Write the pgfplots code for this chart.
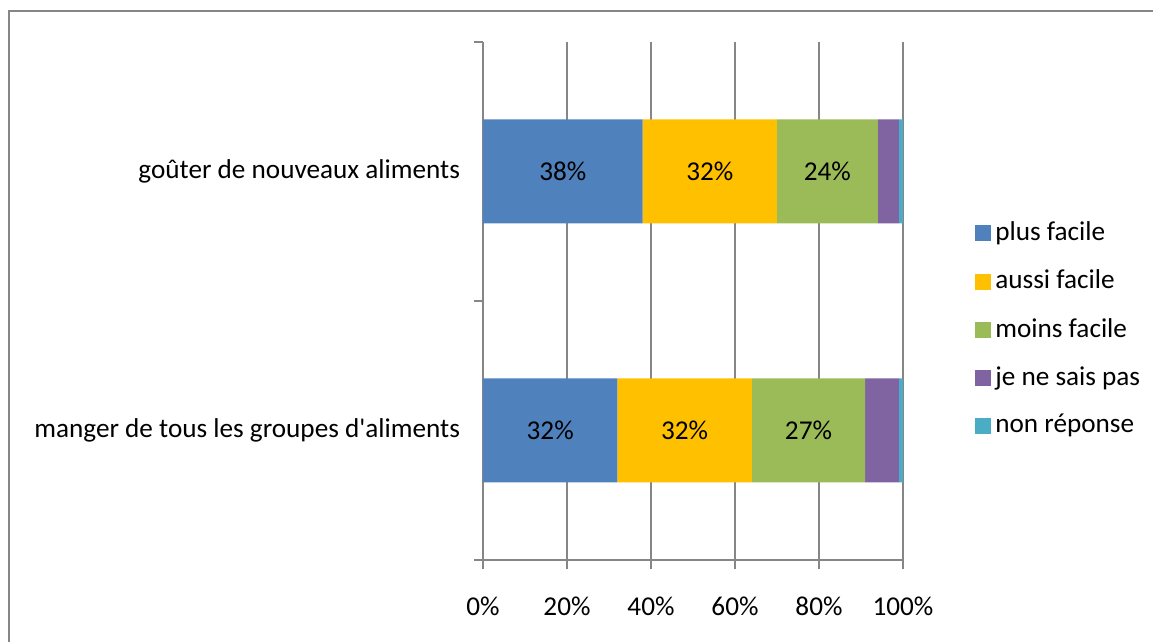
\documentclass[border=0pt]{standalone}
\usepackage{fontspec}
\setmainfont{Carlito}[Ligatures=TeXOff]
\usepackage{pgfplots}
\pgfplotsset{compat=1.18}
\definecolor{cA}{HTML}{4F81BD}
\definecolor{cB}{HTML}{FFC000}
\definecolor{cC}{HTML}{9BBB59}
\definecolor{cD}{HTML}{8064A2}
\definecolor{cE}{HTML}{4BACC6}
\definecolor{axgray}{HTML}{868686}
\begin{document}
\fontsize{13.6pt}{16.3pt}\selectfont
\begin{tikzpicture}
\useasboundingbox (0,0) rectangle (576.5pt,321pt);
\begin{scope}
\clip (0,0) rectangle (576.5pt,321pt);
\draw[axgray, line width=1pt] (4.5pt,-5pt) rectangle (585pt,315.5pt);
\end{scope}
\begin{axis}[
  at={(241.5pt,41pt)}, anchor=south west,
  scale only axis, width=210pt, height=259pt,
  xbar stacked, bar width=52pt,
  xmin=0, xmax=100, ymin=0, ymax=2,
  axis x line*=bottom, axis y line*=left,
  axis line style={axgray, line width=1pt, -},
  tick style={axgray, line width=1pt},
  tick align=outside, major tick length=4.5pt,
  xtick={0,20,40,60,80,100},
  xticklabel={\pgfmathprintnumber{\tick}\%},
  xticklabel style={yshift=-9pt},
  /pgf/number format/assume math mode=true,
  xmajorgrids, grid style={axgray, line width=1pt},
  ytick={0,1,2}, yticklabels={},
  extra y ticks={0.5,1.5},
  extra y tick labels={manger de tous les groupes d'aliments, goûter de nouveaux aliments},
  extra y tick style={major tick length=0pt, tick style={draw=none}, yticklabel style={xshift=-6.8pt}},
  legend style={draw=none, fill=none, at={(1.157,0.445)}, anchor=west, row sep=8.6pt,
    /tikz/every even column/.style={column sep=3pt}},
  legend cell align=left,
  legend image code/.code={\fill[#1,draw=none] (0pt,-4pt) rectangle (8pt,4pt);},
  every node near coord/.append style={black, anchor=center},
  point meta=explicit,
]
\addplot[fill=cA, draw=none, nodes near coords={\pgfmathprintnumber{\pgfplotspointmeta}\%}] coordinates {(32,0.5) [32] (38,1.5) [38]};
\addplot[fill=cB, draw=none, nodes near coords={\pgfmathprintnumber{\pgfplotspointmeta}\%}] coordinates {(32,0.5) [32] (32,1.5) [32]};
\addplot[fill=cC, draw=none, nodes near coords={\pgfmathprintnumber{\pgfplotspointmeta}\%}] coordinates {(27,0.5) [27] (24,1.5) [24]};
\addplot[fill=cD, draw=none] coordinates {(8,0.5) [8] (5,1.5) [5]};
\addplot[fill=cE, draw=none] coordinates {(1,0.5) [1] (1,1.5) [1]};
\legend{plus facile, aussi facile, moins facile, je ne sais pas, non réponse}
\end{axis}
\end{tikzpicture}
\end{document}
